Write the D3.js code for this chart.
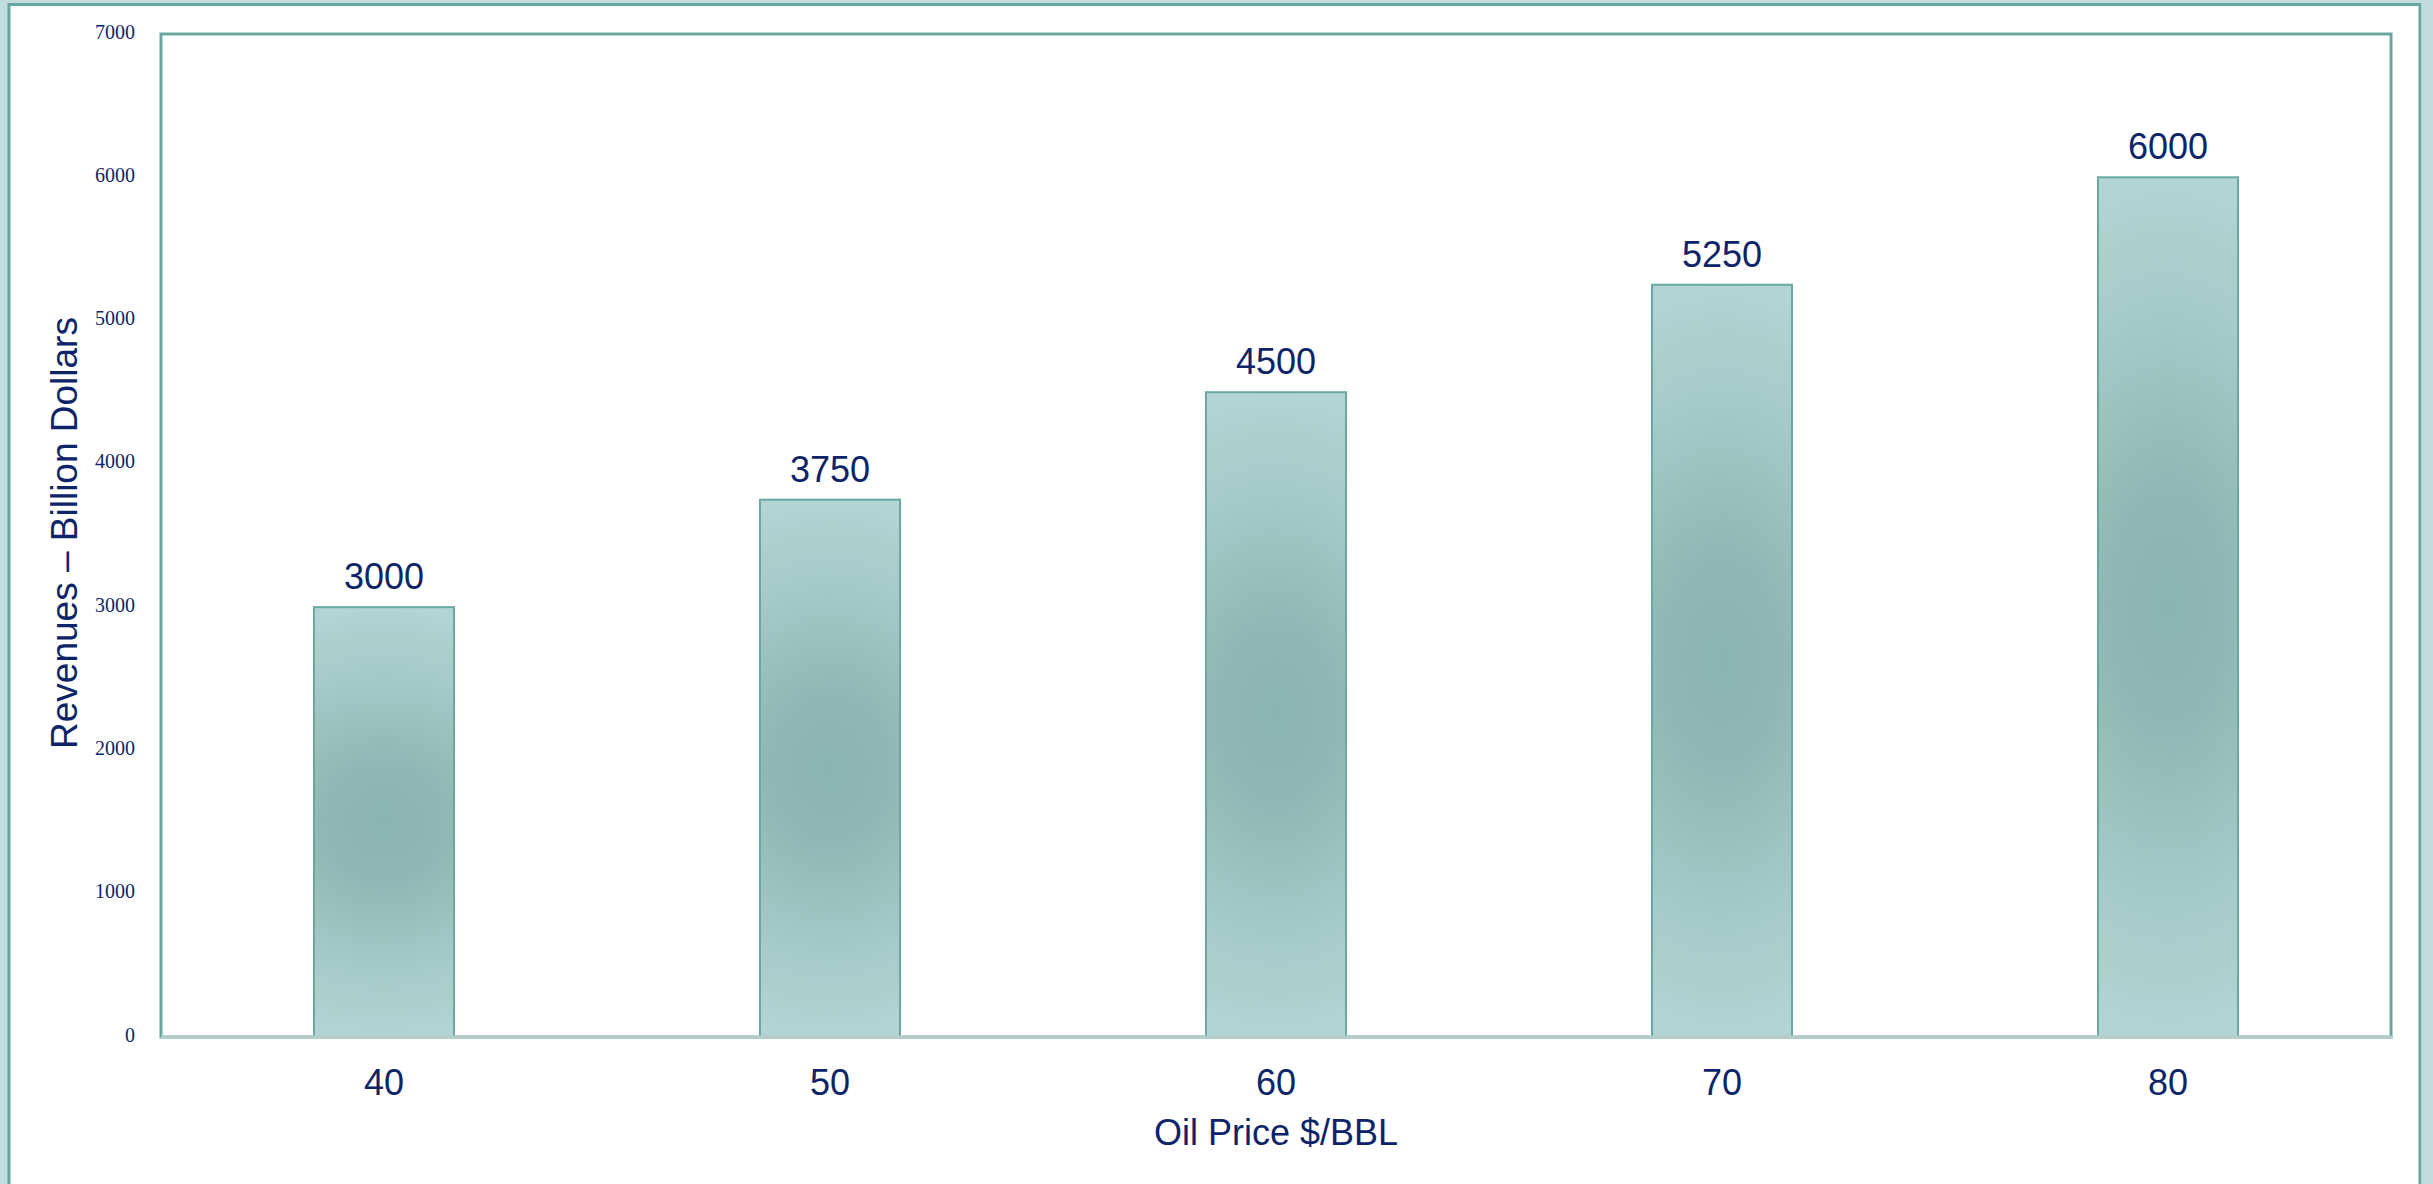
<!DOCTYPE html>
<html><head><meta charset="utf-8">
<script src="https://cdn.jsdelivr.net/npm/d3@7"></script>
<style>
html,body{margin:0;padding:0;background:#fff;overflow:hidden}
svg{display:block}
</style></head>
<body>
<script>
const categories = ["40","50","60","70","80"];
const revenues = [3000, 3750, 4500, 5250, 6000];
const yTicks = [0,1000,2000,3000,4000,5000,6000,7000];
const xTitle = "Oil Price $/BBL";
const yTitle = "Revenues \u2013 Billion Dollars";

const W = 2433, H = 1184;
const plot = {left:161, right:2391, top:34, bottom:1037};
const navy = "#0d2568";
const teal = "#67a7a0";

const svg = d3.select("body").append("svg").attr("width", W).attr("height", H);

const defs = svg.append("defs");
const grad = defs.append("radialGradient").attr("id","barGrad")
  .attr("cx",0.5).attr("cy",0.5).attr("r",0.5)
  .attr("gradientTransform","translate(0.5,0.5) scale(3.2,1) translate(-0.5,-0.5)");
grad.append("stop").attr("offset","0").attr("stop-color","#8bb3af");
grad.append("stop").attr("offset","0.25").attr("stop-color","#8fb6b2");
grad.append("stop").attr("offset","0.7").attr("stop-color","#a6cac7");
grad.append("stop").attr("offset","1").attr("stop-color","#b2d4d2");

// outer decorative frame
svg.append("rect").attr("x",0).attr("y",0).attr("width",8).attr("height",H).attr("fill","#c0dcdc");
svg.append("rect").attr("x",0).attr("y",0).attr("width",W).attr("height",3).attr("fill","#c0dcdc");
svg.append("rect").attr("x",2422).attr("y",0).attr("width",W-2422).attr("height",H).attr("fill","#c0dcdc");
svg.append("path").attr("d",`M9,${H} V4.5 H2420 V${H}`).attr("fill","none").attr("stroke",teal).attr("stroke-width",3);

const x = d3.scaleBand().domain(categories).range([plot.left, plot.right]).padding(0);
const y = d3.scaleLinear().domain([0,7000]).range([plot.bottom, plot.top]);
const barW = x.bandwidth()*0.314;

// plot frame
svg.append("rect").attr("x",plot.left).attr("y",plot.top)
  .attr("width",plot.right-plot.left).attr("height",plot.bottom-plot.top)
  .attr("fill","#fff").attr("stroke",teal).attr("stroke-width",3);

// bars
svg.append("g").selectAll("rect").data(revenues).join("rect")
  .attr("x",(d,i)=>x(categories[i])+x.bandwidth()/2-barW/2)
  .attr("y",d=>y(d))
  .attr("width",barW)
  .attr("height",d=>y(0)-y(d))
  .attr("fill","url(#barGrad)")
  .attr("stroke","#6aa8a2").attr("stroke-width",2);

// baseline
svg.append("line").attr("x1",plot.left).attr("x2",plot.right+2)
  .attr("y1",plot.bottom).attr("y2",plot.bottom)
  .attr("stroke","#b4cccb").attr("stroke-width",3);

// value labels
svg.append("g").selectAll("text").data(revenues).join("text")
  .attr("x",(d,i)=>x(categories[i])+x.bandwidth()/2)
  .attr("y",d=>y(d)-18)
  .attr("text-anchor","middle")
  .attr("font-family","'Liberation Sans', Arial, sans-serif")
  .attr("font-size",36).attr("fill",navy)
  .text(d=>d);

// y axis
const yAxis = svg.append("g").attr("transform",`translate(${plot.left},0)`)
  .call(d3.axisLeft(y).tickValues(yTicks).tickSize(0).tickPadding(26).tickFormat(d3.format("d")));
yAxis.select(".domain").remove();
yAxis.selectAll("text").attr("font-family","'Liberation Serif', 'Times New Roman', serif")
  .attr("font-size",20).attr("fill",navy).attr("dy","0.2em");

// x axis
const xAxis = svg.append("g").attr("transform",`translate(0,${plot.bottom})`)
  .call(d3.axisBottom(x).tickSize(0).tickPadding(0));
xAxis.select(".domain").remove();
xAxis.selectAll("text").attr("font-family","'Liberation Sans', Arial, sans-serif")
  .attr("font-size",36).attr("fill",navy).attr("y",58).attr("dy",0);

// titles
svg.append("text").attr("x",(plot.left+plot.right)/2).attr("y",1145)
  .attr("text-anchor","middle")
  .attr("font-family","'Liberation Sans', Arial, sans-serif")
  .attr("font-size",36).attr("fill",navy).text(xTitle);

svg.append("text").attr("transform","translate(77,533) rotate(-90)")
  .attr("text-anchor","middle")
  .attr("font-family","'Liberation Sans', Arial, sans-serif")
  .attr("font-size",37).attr("fill",navy).text(yTitle);
</script>
</body></html>
